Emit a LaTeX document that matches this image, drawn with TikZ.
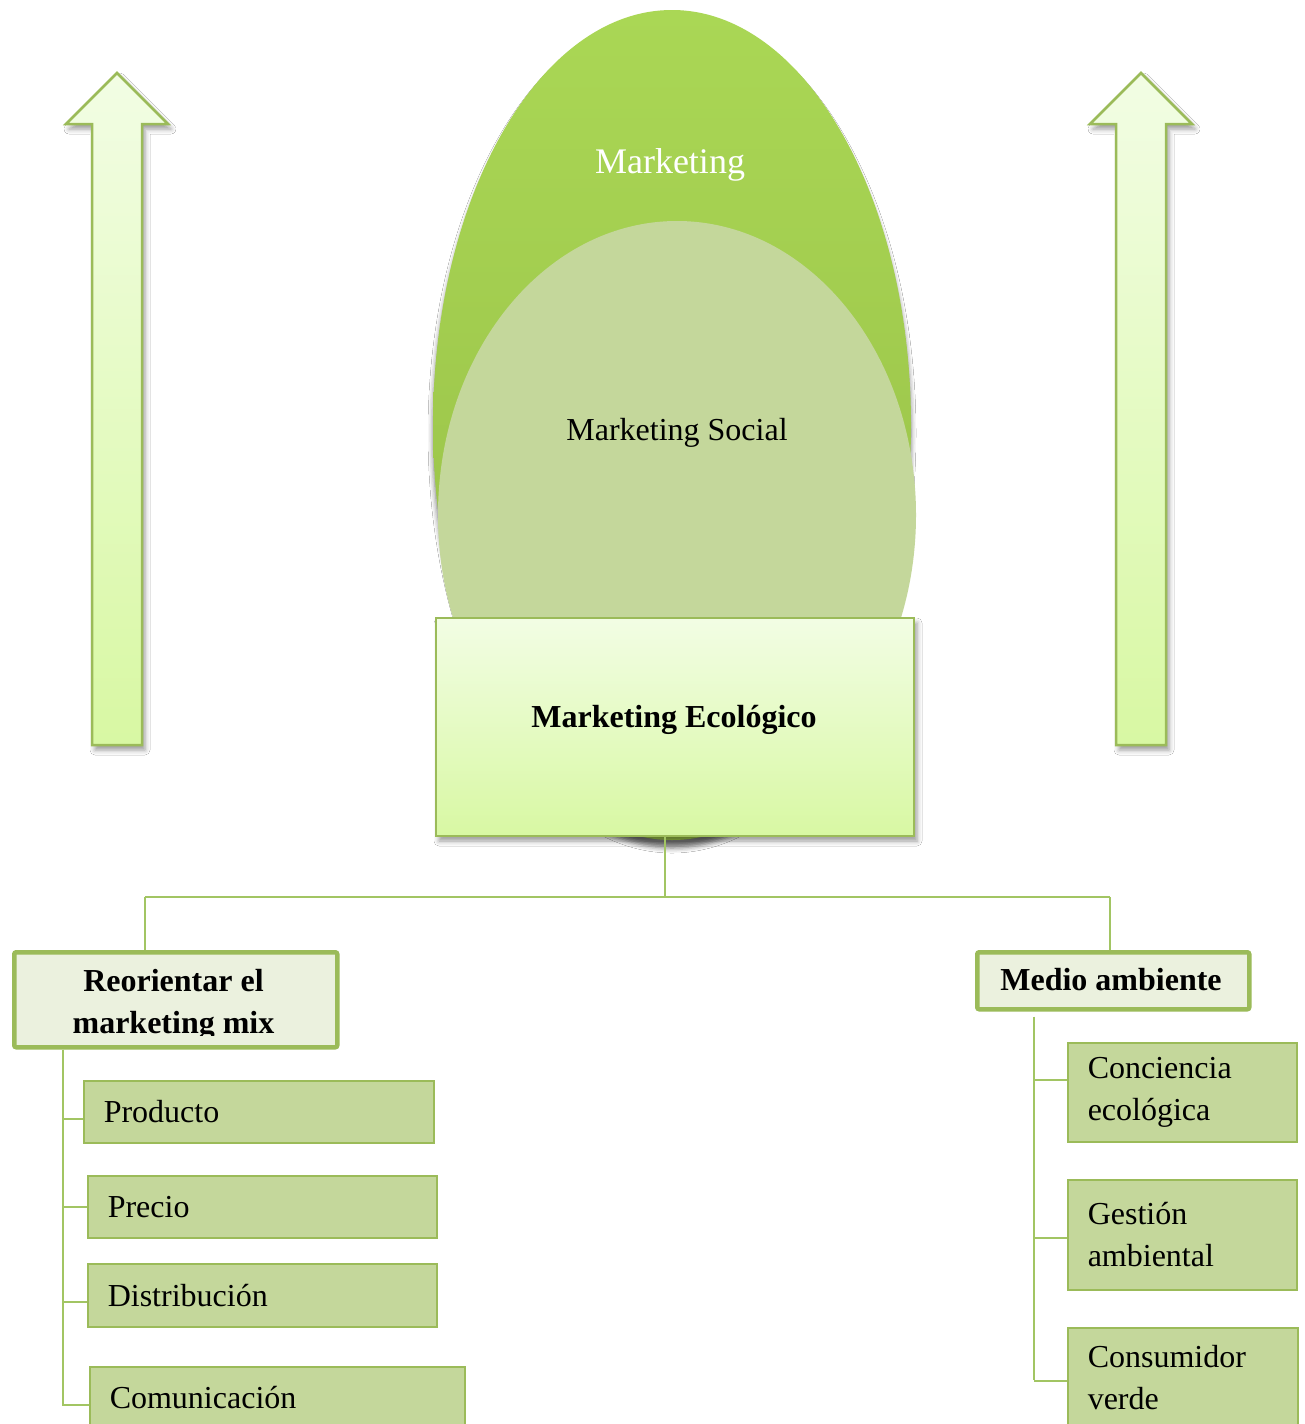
\documentclass[tikz,border=0pt]{standalone}
\usepackage{fontspec}
\setmainfont{Liberation Serif}
\usetikzlibrary{shapes.geometric,shadows.blur}

\definecolor{olive}{HTML}{9BBB59}
\definecolor{leafhi}{HTML}{AAD755}
\definecolor{leaflo}{HTML}{95BC45}
\definecolor{sage}{HTML}{C4D79B}
\definecolor{mint}{HTML}{F2FDE4}
\definecolor{lime}{HTML}{D8F8A3}
\definecolor{paleolive}{HTML}{EBF1DE}
\definecolor{wire}{HTML}{A2C563}

\begin{document}
\begin{tikzpicture}[x=1pt,y=-1pt,
  every node/.style={font=\fontsize{32}{42}\selectfont, inner sep=0pt},
  softshadow/.style={blur shadow={shadow xshift=3pt, shadow yshift=-5pt,
      shadow blur radius=5pt, shadow opacity=40}},
  bigarrow/.style={draw=olive, line width=2.5pt, line join=miter,
      top color=mint, bottom color=lime, softshadow},
  ecobox/.style={rectangle, draw=olive, line width=2pt, top color=mint,
      bottom color=lime, anchor=north west, softshadow},
  headbox/.style={rectangle, draw=olive, line width=4.5pt, rounded corners=2pt,
      fill=paleolive, anchor=north west},
  leaf/.style={rectangle, draw=olive, line width=1.5pt, fill=sage,
      anchor=north west, inner xsep=20pt, align=left},
  conn/.style={draw=wire, line width=2pt},
  headtext/.style={font=\fontsize{32}{42}\selectfont\bfseries, anchor=base},
]
\clip (0,0) rectangle (1304,1424);
\fill[white] (0,0) rectangle (1304,1424);

% upward arrows on both sides
\path[bigarrow] (92,745) -- (92,124) -- (66,124) -- (117,73) -- (168,124)
  -- (142,124) -- (142,745) -- cycle;
\path[bigarrow] (1116,745) -- (1116,124) -- (1090,124) -- (1141,73) -- (1192,124)
  -- (1166,124) -- (1166,745) -- cycle;

% nested ellipses
\node[ellipse, minimum width=478, minimum height=830, top color=leafhi,
  bottom color=leaflo,
  blur shadow={shadow xshift=0pt, shadow yshift=-8pt,
    shadow blur radius=5pt, shadow opacity=55}] (mkt) at (672,425) {};
\node[font=\fontsize{36}{42}\selectfont, text=white, anchor=base] (mktt) at (670,173) {Marketing};
\node[ellipse, fill=sage, minimum width=478, minimum height=588] (soc) at (677,515) {};
\node[anchor=base] (soct) at (677,440) {Marketing Social};

% central box
\node[ecobox, minimum width=478, minimum height=218] (eco) at (435,617) {};
\node[font=\fontsize{32}{42}\selectfont\bfseries, anchor=base] (ecot) at (674,727) {Marketing Ecológico};

% heading boxes
\node[headbox, minimum width=323, minimum height=95] (reo) at (12,950) {};
\begin{scope}
  \clip (reo.north west) rectangle ([yshift=14pt]reo.south east);
  \node[headtext] (reo1) at (173.5,991) {Reorientar el};
  \node[headtext] (reo2) at (173.5,1033) {marketing mix};
\end{scope}
\node[headbox, minimum width=272, minimum height=57] (med) at (975,950) {};
\node[headtext] (medt) at (1111,990) {Medio ambiente};

% left branch items
\node[leaf, text width=310, minimum height=62] (prod) at (83,1080) {Producto};
\node[leaf, text width=309, minimum height=62] (prec) at (87,1175) {Precio};
\node[leaf, text width=309, minimum height=63] (dist) at (87,1263) {Distribución};
\node[leaf, text width=335, minimum height=62] (comu) at (89,1366) {Comunicación};

% right branch items
\node[leaf, text width=189, minimum height=99] (conc) at (1067,1042) {Conciencia\\ecológica};
\node[leaf, text width=189, minimum height=110] (gest) at (1067,1179) {Gestión\\ambiental};
\node[leaf, text width=190, minimum height=100] (cons) at (1067,1327) {Consumidor\\verde};

% connectors
\coordinate (hub) at (665,897);
\coordinate (bl) at (145,897);
\coordinate (br) at (1110,897);
\coordinate (lsp) at (63,1406);
\coordinate (rsp) at (1034,1380);
\draw[conn] (eco.south -| hub) -- (hub);
\draw[conn] (bl) -- (br);
\draw[conn] (bl) -- (bl |- reo.north);
\draw[conn] (br) -- (br |- med.north);

\draw[conn] (lsp |- reo.south) -- (lsp);
\draw[conn] ([yshift=-7pt]prod.west -| lsp) -- ([yshift=-7pt]prod.west);
\draw[conn] (prec.west -| lsp) -- (prec.west);
\draw[conn] ([yshift=-6.5pt]dist.west -| lsp) -- ([yshift=-6.5pt]dist.west);
\draw[conn] ([yshift=-7pt]comu.west -| lsp) -- ([yshift=-7pt]comu.west);

\draw[conn] ([yshift=-5pt]rsp |- med.south) -- (rsp);
\draw[conn] ([yshift=12.5pt]conc.west -| rsp) -- ([yshift=12.5pt]conc.west);
\draw[conn] ([yshift=-3pt]gest.west -| rsp) -- ([yshift=-3pt]gest.west);
\draw[conn] ([yshift=-3pt]cons.west -| rsp) -- ([yshift=-3pt]cons.west);
\end{tikzpicture}
\end{document}
